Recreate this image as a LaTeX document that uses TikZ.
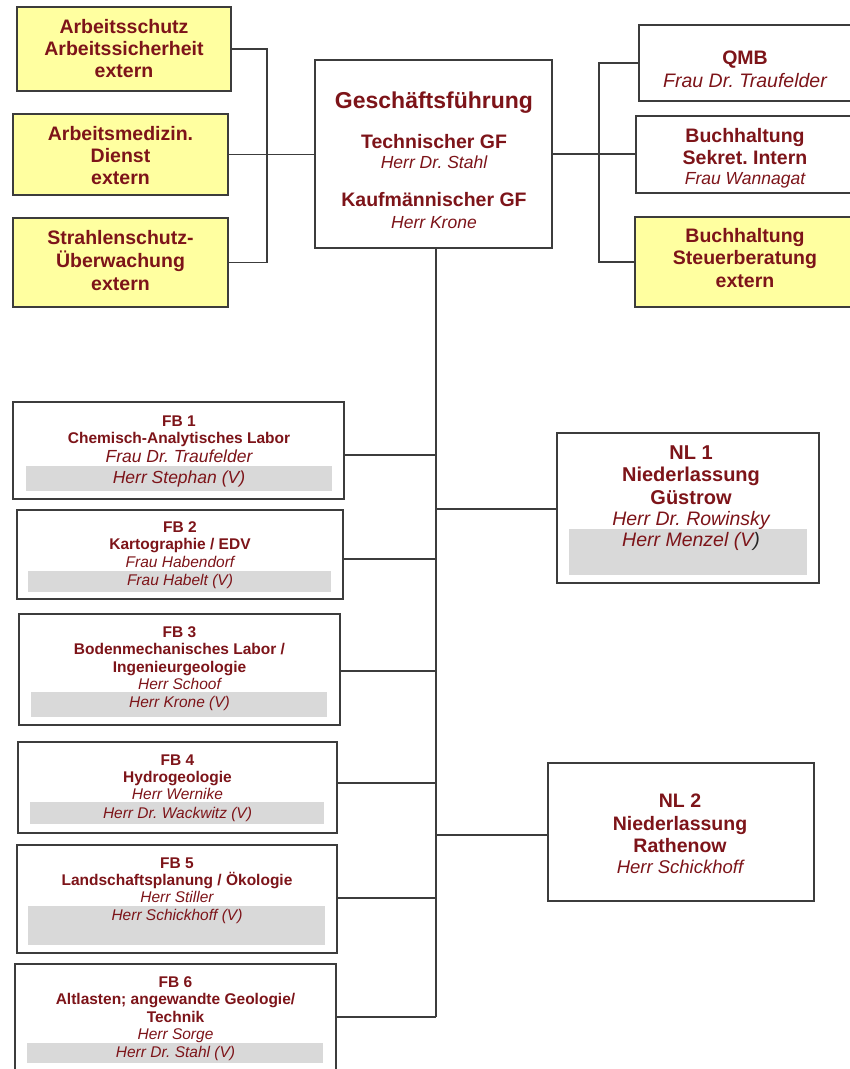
\documentclass[tikz,border=0pt]{standalone}
\usepackage{fontspec}
\setmainfont{Liberation Sans}
\frenchspacing
\definecolor{tc}{RGB}{125,20,25}
\definecolor{bc}{RGB}{60,60,60}
\definecolor{yel}{RGB}{255,255,160}
\definecolor{band}{RGB}{217,217,217}
\tikzset{
  box/.style={draw=bc, line width=1.3pt, fill=white, inner sep=0pt, outer sep=0pt},
  ybox/.style={box, fill=yel},
  conn/.style={draw=bc, line width=1.3pt},
  lbl/.style={inner sep=0pt, text=tc, text depth=0pt},
  bt/.style={lbl, font=\bfseries\fontsize{#1}{#1}\selectfont, text height=0.72*#1pt},
  it/.style={lbl, font=\itshape\fontsize{#1}{#1}\selectfont, text height=0.72*#1pt},
}
\begin{document}
\begin{tikzpicture}[x=1pt,y=-1pt]
\useasboundingbox (0,0) rectangle (850,1069);
\fill[white] (0,0) rectangle (850,1069);
\clip (0,0) rectangle (850,1069);

% ---------- boxes ----------
\node[ybox, minimum width=214pt, minimum height=84pt] (as) at (124,49) {};
\node[ybox, minimum width=215pt, minimum height=81pt] (am) at (120.5,154.5) {};
\node[ybox, minimum width=215pt, minimum height=89pt] (sw) at (120.5,262.5) {};
\node[box, minimum width=237pt, minimum height=188pt] (gf) at (433.5,154) {};
\node[box, minimum width=231pt, minimum height=76pt] (qmb) at (754.5,63) {};
\node[box, minimum width=234pt, minimum height=77pt] (bs) at (753,154.5) {};
\node[ybox, minimum width=235pt, minimum height=90pt] (st) at (752.5,262) {};
\node[box, minimum width=331pt, minimum height=97pt] (fb1) at (178.5,450.5) {};
\node[box, minimum width=326pt, minimum height=89pt] (fb2) at (180,554.5) {};
\node[box, minimum width=321pt, minimum height=111pt] (fb3) at (179.5,669.5) {};
\node[box, minimum width=319pt, minimum height=91pt] (fb4) at (177.5,787.5) {};
\node[box, minimum width=320pt, minimum height=108pt] (fb5) at (177,899) {};
\node[box, minimum width=321pt, minimum height=126pt] (fb6) at (175.5,1027) {};
\node[box, minimum width=262pt, minimum height=150pt] (nl1) at (688,508) {};
\node[box, minimum width=266pt, minimum height=138pt] (nl2) at (681,832) {};

% ---------- grey bands ----------
\fill[band] (26,466) rectangle (332,491);
\fill[band] (28,571) rectangle (331,592);
\fill[band] (31,692) rectangle (327,717);
\fill[band] (30,802) rectangle (324,824);
\fill[band] (28,906) rectangle (325,945);
\fill[band] (27,1043) rectangle (323,1063);
\fill[band] (569,529) rectangle (807,575);

% ---------- connectors ----------
\coordinate (lb) at (267,0);
\coordinate (rb) at (599,0);
\draw[conn] (as.east) -- (as.east -| lb) |- (sw.east);
\draw[conn] (am.east) -- (am.east -| gf.west);
\draw[conn] (gf.east) -- (gf.east -| bs.west);
\draw[conn] (qmb.west) -- (qmb.west -| rb) |- (st.west);
\coordinate (s1) at (436,455);
\coordinate (s2) at (436,559);
\coordinate (s3) at (436,671);
\coordinate (s4) at (436,783);
\coordinate (s5) at (436,898);
\coordinate (s6) at (436,1017);
\coordinate (n1) at (436,509);
\coordinate (n2) at (436,835);
\draw[conn] (gf.south -| s6) -- (s6);
\draw[conn] (fb1.east |- s1) -- (s1);
\draw[conn] (fb2.east |- s2) -- (s2);
\draw[conn] (fb3.east |- s3) -- (s3);
\draw[conn] (fb4.east |- s4) -- (s4);
\draw[conn] (fb5.east |- s5) -- (s5);
\draw[conn] (fb6.east |- s6) -- (s6);
\draw[conn] (n1) -- (nl1.west |- n1);
\draw[conn] (n2) -- (nl2.west |- n2);

% ---------- texts: left yellow ----------
\node[bt=19.5] (as1) at (124,26) {Arbeitsschutz};
\node[bt=19.5] (as2) at (124,48) {Arbeitssicherheit};
\node[bt=19.5] (as3) at (124,70) {extern};
\node[bt=19.5] (am1) at (120.5,133) {Arbeitsmedizin.};
\node[bt=19.5] (am2) at (120.5,155) {Dienst};
\node[bt=19.5] (am3) at (120.5,177) {extern};
\node[bt=19.5] (sw1) at (120.5,237) {Strahlenschutz-};
\node[bt=19.5] (sw2) at (120.5,260) {Überwachung};
\node[bt=19.5] (sw3) at (120.5,283) {extern};

% ---------- GF ----------
\node[bt=23] (gf1) at (434,100) {Geschäftsführung};
\node[bt=19.5] (gf2) at (434,141) {Technischer GF};
\node[it=17.5] (gf3) at (434,162) {Herr Dr. Stahl};
\node[bt=19.5] (gf4) at (434,199) {Kaufmännischer GF};
\node[it=17.5] (gf5) at (434,222) {Herr Krone};

% ---------- right ----------
\node[bt=19.5] (q1) at (745,57) {QMB};
\node[it=19.5] (q2) at (745,80) {Frau Dr. Traufelder};
\node[bt=19.5] (bs1) at (745,135) {Buchhaltung};
\node[bt=19.5] (bs2) at (745,157) {Sekret. Intern};
\node[it=17.5] (bs3) at (745,178) {Frau Wannagat};
\node[bt=19.5] (st1) at (745,235) {Buchhaltung};
\node[bt=19.5] (st2) at (745,257) {Steuerberatung};
\node[bt=19.5] (st3) at (745,280) {extern};

% ---------- FB 1 ----------
\node[bt=15.5] (f11) at (179,421) {FB 1};
\node[bt=15.5] (f12) at (179,438) {Chemisch-Analytisches Labor};
\node[it=17.5] (f13) at (179,456) {Frau Dr. Traufelder};
\node[it=17.5] (f14) at (179,477) {Herr Stephan (V)};
% ---------- FB 2 ----------
\node[bt=15.5] (f21) at (180,527) {FB 2};
\node[bt=15.5] (f22) at (180,544) {Kartographie / EDV};
\node[it=15.5] (f23) at (180,562) {Frau Habendorf};
\node[it=15.5] (f24) at (180,580) {Frau Habelt (V)};
% ---------- FB 3 ----------
\node[bt=15.5] (f31) at (179.5,632) {FB 3};
\node[bt=15.5] (f32) at (179.5,649) {Bodenmechanisches Labor /};
\node[bt=15.5] (f33) at (179.5,667) {Ingenieurgeologie};
\node[it=15.5] (f34) at (179.5,684) {Herr Schoof};
\node[it=15.5] (f35) at (179.5,702) {Herr Krone (V)};
% ---------- FB 4 ----------
\node[bt=15.5] (f41) at (177.5,760) {FB 4};
\node[bt=15.5] (f42) at (177.5,777) {Hydrogeologie};
\node[it=15.5] (f43) at (177.5,794) {Herr Wernike};
\node[it=15.5] (f44) at (177.5,813) {Herr Dr. Wackwitz (V)};
% ---------- FB 5 ----------
\node[bt=15.5] (f51) at (177,863) {FB 5};
\node[bt=15.5] (f52) at (177,880) {Landschaftsplanung / Ökologie};
\node[it=15.5] (f53) at (177,897) {Herr Stiller};
\node[it=15.5] (f54) at (177,915) {Herr Schickhoff (V)};
% ---------- FB 6 ----------
\node[bt=15.5] (f61) at (175.5,982) {FB 6};
\node[bt=15.5] (f62) at (175.5,999) {Altlasten; angewandte Geologie/};
\node[bt=15.5] (f63) at (175.5,1017) {Technik};
\node[it=15.5] (f64) at (175.5,1034) {Herr Sorge};
\node[it=15.5] (f65) at (175.5,1052) {Herr Dr. Stahl (V)};

% ---------- NL 1 ----------
\node[bt=20] (n11) at (691,452) {NL 1};
\node[bt=20] (n12) at (691,474) {Niederlassung};
\node[bt=20] (n13) at (691,497) {Güstrow};
\node[it=19.5] (n14) at (691,518) {Herr Dr. Rowinsky};
\node[it=19.5] (n15) at (691,539) {Herr Menzel (V\textcolor{black!85}{)}};
% ---------- NL 2 ----------
\node[bt=19.5] (n21) at (680,800) {NL 2};
\node[bt=19.5] (n22) at (680,823) {Niederlassung};
\node[bt=19.5] (n23) at (680,845) {Rathenow};
\node[it=18.5] (n24) at (680,867) {Herr Schickhoff};
\end{tikzpicture}
\end{document}
